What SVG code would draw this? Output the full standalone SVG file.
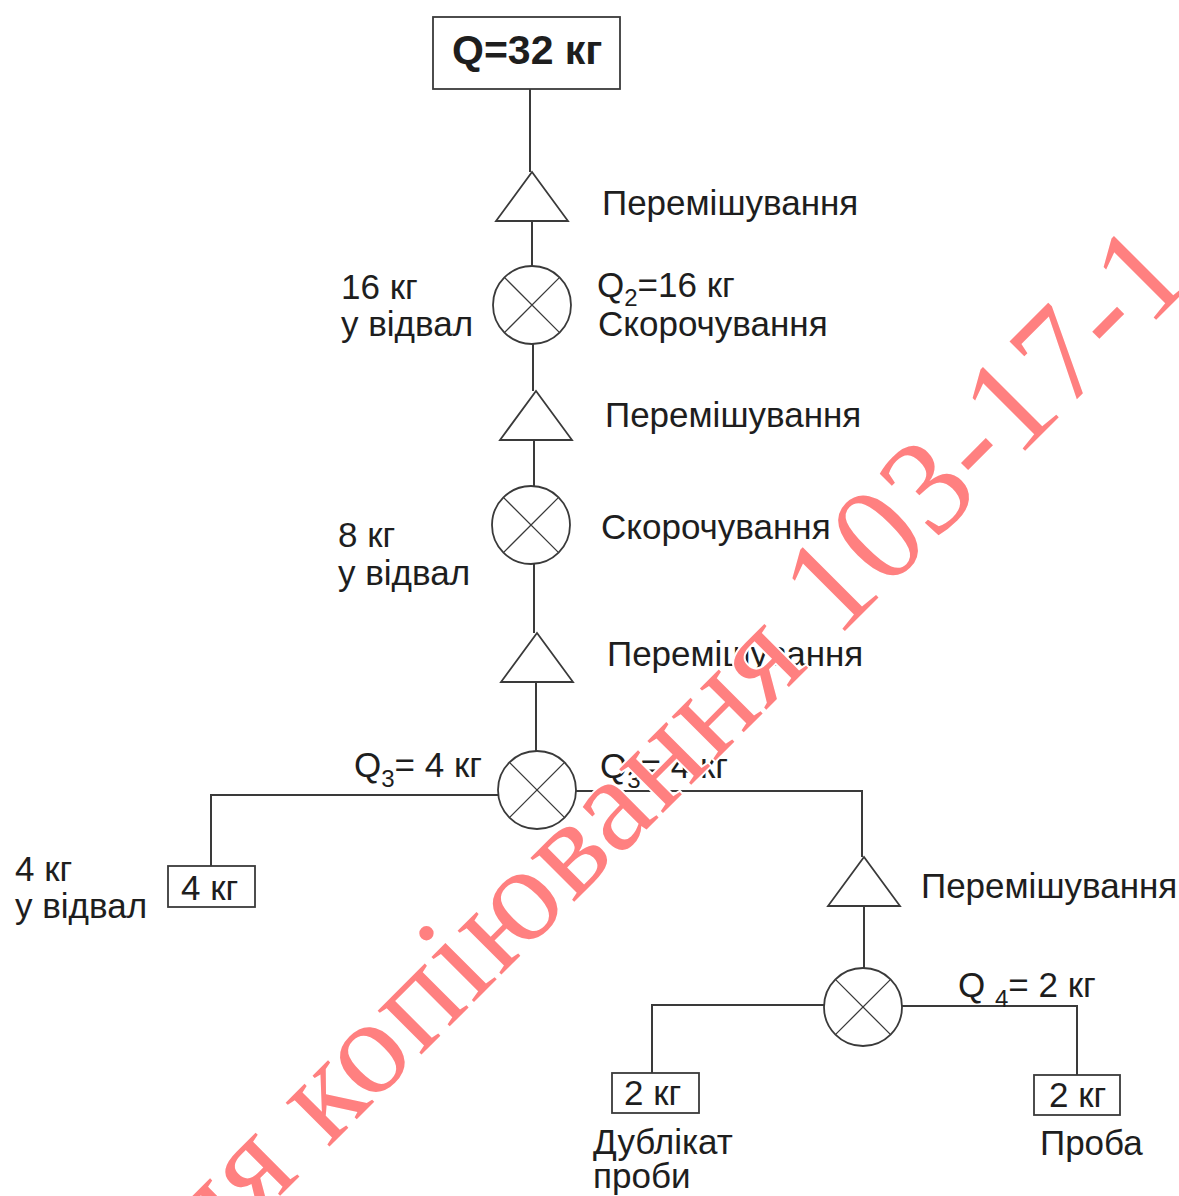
<svg xmlns="http://www.w3.org/2000/svg" width="1179" height="1196" viewBox="0 0 1179 1196">
<style>
.ln{fill:none;stroke:#3a3a3a;stroke-width:2}
.sym{fill:#fff;stroke:#3a3a3a;stroke-width:1.8}
.x{stroke:#3a3a3a;stroke-width:1.3;fill:none}
.t{font-family:"Liberation Sans",Arial,sans-serif;font-size:35px;fill:#1e1e1e}
.sub{font-size:24px}
.b{font-weight:bold;font-size:41px}
.wm{font-family:"Liberation Serif","Times New Roman",serif;font-size:135px;fill:#ff8080;stroke:#fff;stroke-width:4;paint-order:stroke}
</style>
<defs>
<g id="div"><circle cx="0" cy="0" r="39" class="sym"/><path class="x" d="M-27.6,-27.6L27.6,27.6M27.6,-27.6L-27.6,27.6"/></g>
<polygon id="tri" points="0,0 36,49 -36,49" class="sym"/>
</defs>
<g id="connectors">
<path class="ln" d="M530,89V172"/>
<path class="ln" d="M532,221V266"/>
<path class="ln" d="M533,344V391"/>
<path class="ln" d="M534,440V486"/>
<path class="ln" d="M534,564V633"/>
<path class="ln" d="M536,681V751"/>
<path class="ln" d="M498,795H211V866"/>
<path class="ln" d="M576,791H862V857"/>
<path class="ln" d="M864,906V968"/>
<path class="ln" d="M824,1005H652V1073"/>
<path class="ln" d="M902,1006H1077V1075"/>
</g>
<g id="source"><rect x="433" y="17" width="187" height="72" class="sym"/><text class="t b" x="452" y="64">Q=32 кг</text></g>
<g id="mix1"><use href="#tri" x="532" y="172"/><text class="t" x="602" y="215">Перемішування</text></g>
<g id="split1"><use href="#div" x="532" y="305"/>
<text class="t" x="341" y="299">16 кг</text><text class="t" x="341" y="336">у відвал</text>
<text class="t" x="597" y="297">Q<tspan class="sub" dy="9">2</tspan><tspan dy="-9">=16 кг</tspan></text>
<text class="t" x="598" y="336">Скорочування</text></g>
<g id="mix2"><use href="#tri" x="536" y="391"/><text class="t" x="605" y="427">Перемішування</text></g>
<g id="split2"><use href="#div" x="531" y="525"/>
<text class="t" x="338" y="547">8 кг</text><text class="t" x="338" y="585">у відвал</text>
<text class="t" x="601" y="539">Скорочування</text></g>
<g id="mix3"><use href="#tri" x="537" y="633"/><text class="t" x="607" y="666">Перемішування</text></g>
<g id="split3"><use href="#div" x="537" y="790"/>
<text class="t" x="354" y="777">Q<tspan class="sub" dy="10">3</tspan><tspan dy="-10">= 4 кг</tspan></text>
<text class="t" x="600" y="778">Q<tspan class="sub" dy="10">3</tspan><tspan dy="-10">= 4 кг</tspan></text></g>
<g id="waste4"><rect x="168" y="866" width="87" height="41" class="sym"/><text class="t" x="181" y="900">4 кг</text>
<text class="t" x="15" y="881">4 кг</text><text class="t" x="15" y="918">у відвал</text></g>
<g id="mix4"><use href="#tri" x="864" y="857"/><text class="t" x="921" y="898">Перемішування</text></g>
<g id="split4"><use href="#div" x="863" y="1007"/>
<text class="t" x="958" y="997">Q <tspan class="sub" dy="10">4</tspan><tspan dy="-10">= 2 кг</tspan></text></g>
<g id="duplicate"><rect x="612" y="1073" width="87" height="40" class="sym"/><text class="t" x="624" y="1105">2 кг</text>
<text class="t" x="593" y="1154">Дублікат</text><text class="t" x="593" y="1188">проби</text></g>
<g id="sample"><rect x="1034" y="1075" width="86" height="40" class="sym"/><text class="t" x="1049" y="1107">2 кг</text>
<text class="t" x="1040" y="1155">Проба</text></g>
<text class="wm" transform="translate(142,1334) rotate(-45)" x="0" y="0" textLength="1490" lengthAdjust="spacing">Для копіювання 103-17-1</text>
</svg>
